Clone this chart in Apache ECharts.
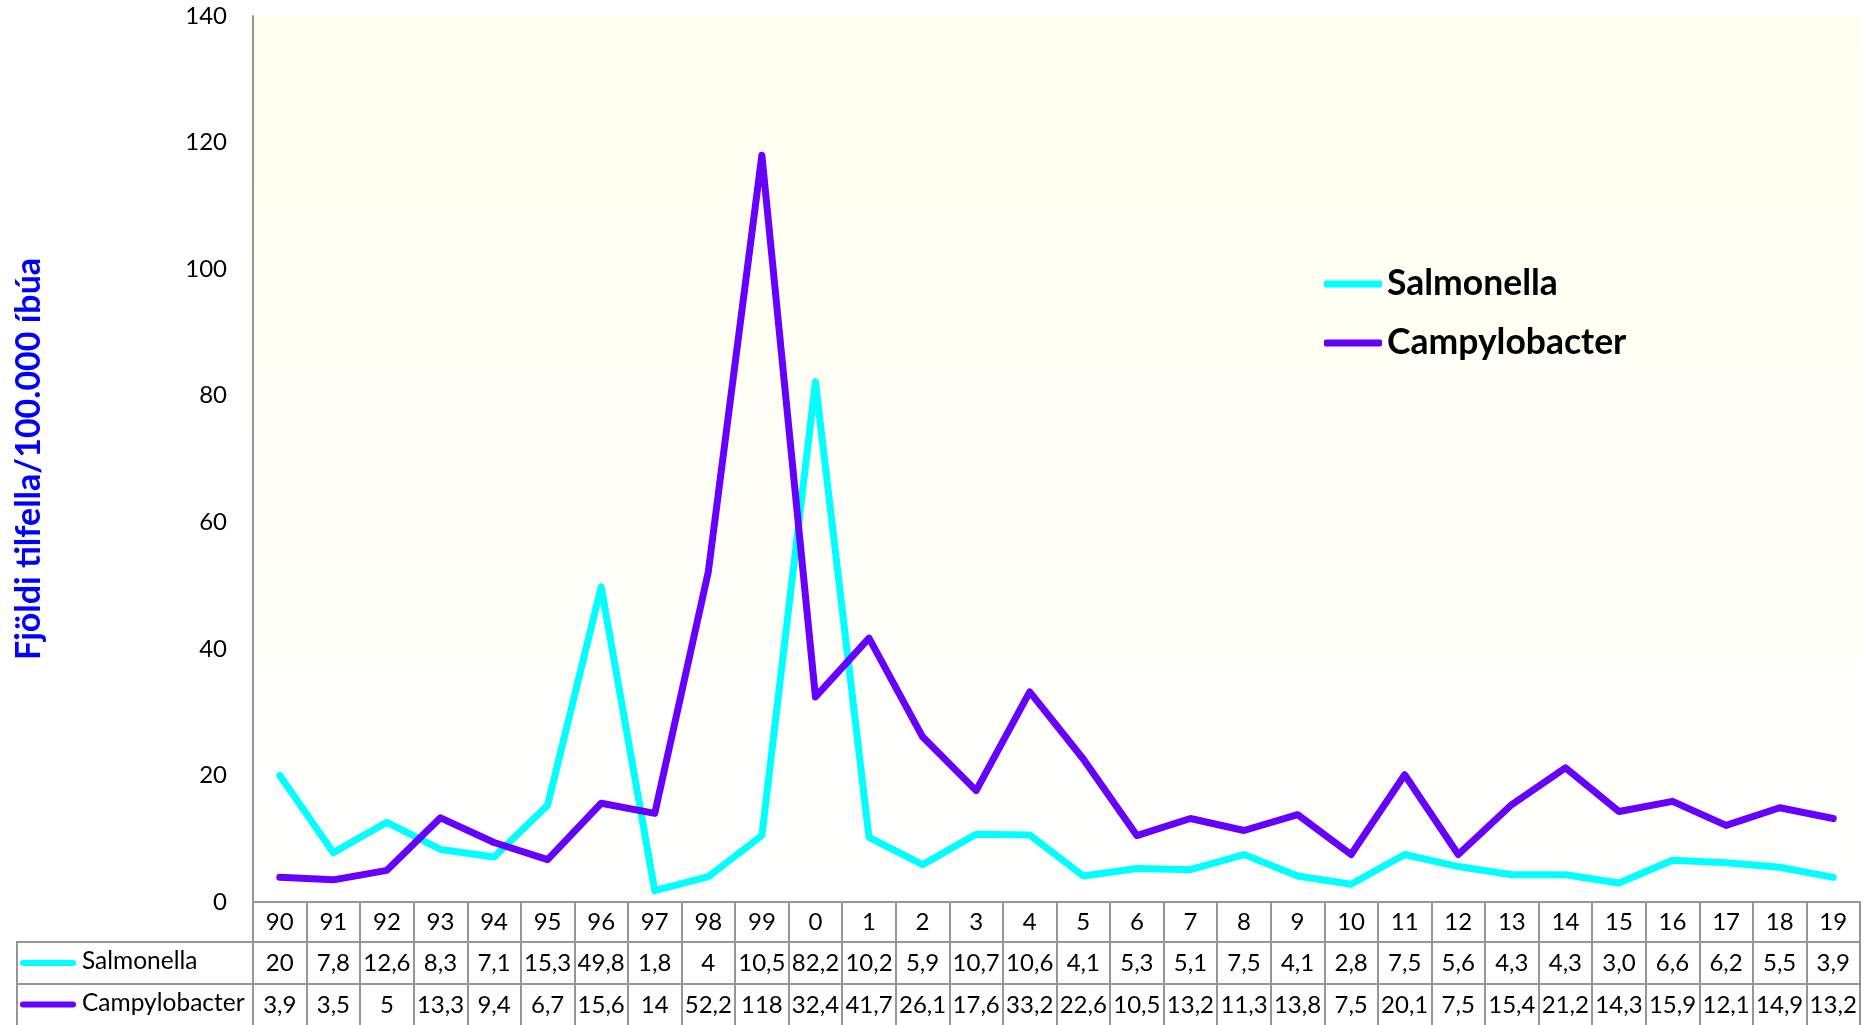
<!DOCTYPE html>
<html>
<head>
<meta charset="utf-8">
<script src="https://cdn.jsdelivr.net/npm/echarts@6/dist/echarts.min.js"></script>
<style>
html,body{margin:0;padding:0;background:#fff;}
#c{width:1866px;height:1025px;}
</style>
</head>
<body>
<div id="c"></div>
<script>
const categories = ['90','91','92','93','94','95','96','97','98','99','0','1','2','3','4','5','6','7','8','9','10','11','12','13','14','15','16','17','18','19'];
const salmonella = [20, 7.8, 12.6, 8.3, 7.1, 15.3, 49.8, 1.8, 4, 10.5, 82.2, 10.2, 5.9, 10.7, 10.6, 4.1, 5.3, 5.1, 7.5, 4.1, 2.8, 7.5, 5.6, 4.3, 4.3, 3.0, 6.6, 6.2, 5.5, 3.9];
const campylobacter = [3.9, 3.5, 5, 13.3, 9.4, 6.7, 15.6, 14, 52.2, 118, 32.4, 41.7, 26.1, 17.6, 33.2, 22.6, 10.5, 13.2, 11.3, 13.8, 7.5, 20.1, 7.5, 15.4, 21.2, 14.3, 15.9, 12.1, 14.9, 13.2];
const salmonellaLabels = ['20','7,8','12,6','8,3','7,1','15,3','49,8','1,8','4','10,5','82,2','10,2','5,9','10,7','10,6','4,1','5,3','5,1','7,5','4,1','2,8','7,5','5,6','4,3','4,3','3,0','6,6','6,2','5,5','3,9'];
const campylobacterLabels = ['3,9','3,5','5','13,3','9,4','6,7','15,6','14','52,2','118','32,4','41,7','26,1','17,6','33,2','22,6','10,5','13,2','11,3','13,8','7,5','20,1','7,5','15,4','21,2','14,3','15,9','12,1','14,9','13,2'];
const yTicks = [0, 20, 40, 60, 80, 100, 120, 140];
const seriesNames = ['Salmonella', 'Campylobacter'];
const colors = ['#00FFFF', '#6600FF'];

const FONT = 'Lato';
const GRID_L = 253, GRID_T = 16, GRID_B = 123, GRID_R = 6;
const ROW0 = 1025 - GRID_B;      // 902
const ROW1 = ROW0 + 40;          // 942
const ROW2 = ROW1 + 42;          // 984
const LINE = '#969696';

const chart = echarts.init(document.getElementById('c'), null, {renderer: 'canvas'});

function tableAxis(data, offset, tickLen, margin) {
  return {
    type: 'category', data: data, position: 'bottom', offset: offset,
    boundaryGap: true,
    axisLine: {show: true, lineStyle: {color: LINE, width: 2}},
    axisTick: {show: true, inside: false, length: tickLen, interval: 0, lineStyle: {color: LINE, width: 2}},
    axisLabel: {show: true, interval: 0, margin: margin, color: '#000', fontFamily: FONT, fontSize: 24},
    splitLine: {show: false}
  };
}

const option = {
  backgroundColor: '#ffffff',
  animation: false,
  grid: {
    left: GRID_L, right: GRID_R, top: GRID_T, bottom: GRID_B,
    show: true, borderWidth: 0,
    backgroundColor: new echarts.graphic.LinearGradient(0, 0, 0, 1, [
      {offset: 0, color: '#FFFFEE'}, {offset: 1, color: '#FFFFFF'}
    ])
  },
  legend: {
    data: seriesNames.map(n => ({name: n, icon: 'roundRect'})),
    orient: 'vertical',
    left: 1319, top: 259,
    itemWidth: 58, itemHeight: 7, itemGap: 19,
    textStyle: {fontFamily: FONT, fontWeight: 'bold', fontSize: 35.5, color: '#000', lineHeight: 40}
  },
  xAxis: [
    tableAxis(categories, 0, 40, 8),
    tableAxis(salmonellaLabels, 40, 42, 9),
    tableAxis(campylobacterLabels, 82, 42, 9)
  ],
  yAxis: {
    type: 'value', min: 0, max: 140, interval: 20,
    name: 'Fjöldi tilfella/100.000 íbúa',
    nameLocation: 'middle', nameGap: 207, nameRotate: 90,
    nameTextStyle: {color: '#0000FF', fontFamily: FONT, fontWeight: 'bold', fontSize: 34},
    axisLine: {show: true, lineStyle: {color: LINE, width: 2}},
    axisTick: {show: false},
    splitLine: {show: false},
    axisLabel: {margin: 26, color: '#000', fontFamily: FONT, fontSize: 24,
      formatter: v => yTicks.indexOf(v) >= 0 ? String(v) : ''}
  },
  series: [
    {name: seriesNames[0], type: 'line', data: salmonella, xAxisIndex: 0, symbol: 'none',
     itemStyle: {color: colors[0]},
     lineStyle: {color: colors[0], width: 7, cap: 'round', join: 'round'}, z: 2},
    {name: seriesNames[1], type: 'line', data: campylobacter, xAxisIndex: 0, symbol: 'none',
     itemStyle: {color: colors[1]},
     lineStyle: {color: colors[1], width: 7, cap: 'round', join: 'round'}, z: 3}
  ],
  graphic: [
    {type: 'line', shape: {x1: 17, y1: ROW1, x2: GRID_L, y2: ROW1}, style: {stroke: LINE, lineWidth: 2}, silent: true},
    {type: 'line', shape: {x1: 17, y1: ROW2, x2: GRID_L, y2: ROW2}, style: {stroke: LINE, lineWidth: 2}, silent: true},
    {type: 'line', shape: {x1: 17, y1: ROW1 - 1, x2: 17, y2: 1025}, style: {stroke: LINE, lineWidth: 2}, silent: true},
    {type: 'line', shape: {x1: 23, y1: (ROW1 + ROW2) / 2, x2: 73, y2: (ROW1 + ROW2) / 2}, style: {stroke: colors[0], lineWidth: 6, lineCap: 'round'}, silent: true},
    {type: 'line', shape: {x1: 23, y1: (ROW2 + 1025) / 2, x2: 73, y2: (ROW2 + 1025) / 2}, style: {stroke: colors[1], lineWidth: 6, lineCap: 'round'}, silent: true},
    {type: 'text', left: 82, top: (ROW1 + ROW2) / 2 - 14, style: {text: seriesNames[0], fill: '#000', font: '24.5px Lato'}, silent: true},
    {type: 'text', left: 82, top: (ROW2 + 1025) / 2 - 14, style: {text: seriesNames[1], fill: '#000', font: '24.5px Lato'}, silent: true}
  ]
};
chart.setOption(option);
</script>
</body>
</html>
